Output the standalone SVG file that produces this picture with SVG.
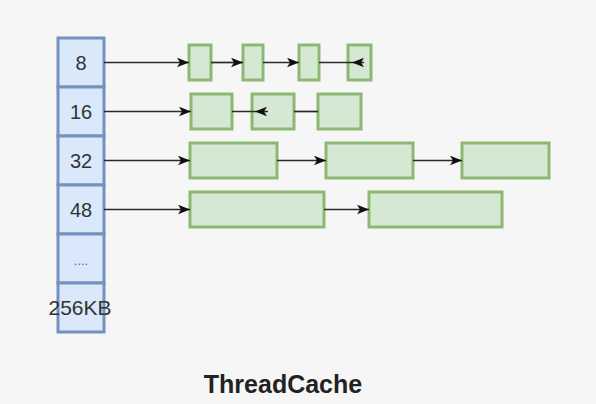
<svg xmlns="http://www.w3.org/2000/svg" width="596" height="404" viewBox="0 0 596 404">
  <defs>
    <style>
      .cell { fill: #dae8fc; stroke: #7591bd; stroke-width: 3; }
      .blk { fill: #d5e8d4; stroke: #8db873; stroke-width: 3; }
      .lbl { font-family: "Liberation Sans", Arial, sans-serif; font-size: 20px; fill: #333; text-anchor: middle; dominant-baseline: central; }
      .title { font-family: "Liberation Sans", Arial, sans-serif; font-size: 25px; font-weight: bold; fill: #222; text-anchor: middle; }
      .conn { fill: none; stroke: #2a2a2a; stroke-width: 1.7; }
      .arr { marker-end: url(#ah); }
    </style>
    <marker id="ah" viewBox="0 0 10 8" refX="10" refY="4" markerWidth="12" markerHeight="10" markerUnits="userSpaceOnUse" orient="auto">
      <path d="M0,0 L10,4 L0,8 L2.5,4 Z" fill="#111"/>
    </marker>
  </defs>
  <rect width="596" height="404" fill="#f6f6f6"/>

  <g id="threadcache">
    <g id="cell-8"><rect class="cell" x="58" y="38" width="46" height="49"/><text class="lbl" x="81" y="63">8</text></g>
    <g id="cell-16"><rect class="cell" x="58" y="87" width="46" height="49"/><text class="lbl" x="81" y="112">16</text></g>
    <g id="cell-32"><rect class="cell" x="58" y="136" width="46" height="49"/><text class="lbl" x="81" y="161">32</text></g>
    <g id="cell-48"><rect class="cell" x="58" y="185" width="46" height="49"/><text class="lbl" x="81" y="210">48</text></g>
    <g id="cell-dots"><rect class="cell" x="58" y="234" width="46" height="49"/><text class="lbl" x="81" y="260" style="font-size:13px;fill:#666">....</text></g>
    <g id="cell-256kb"><rect class="cell" x="58" y="283" width="46" height="49"/><text class="lbl" x="80" y="307" style="font-size:21px">256KB</text></g>
  </g>

  <g id="row8">
    <rect id="b8-1" class="blk" x="189" y="45" width="22" height="35"/>
    <rect id="b8-2" class="blk" x="243" y="45" width="20" height="35"/>
    <rect id="b8-3" class="blk" x="299" y="45" width="20" height="35"/>
    <rect id="b8-4" class="blk" x="348" y="45" width="23" height="35"/>
  </g>
  <g id="row16">
    <rect id="b16-1" class="blk" x="191" y="94" width="41" height="35"/>
    <rect id="b16-2" class="blk" x="252" y="94" width="42" height="35"/>
    <rect id="b16-3" class="blk" x="318" y="94" width="43" height="35"/>
  </g>
  <g id="row32">
    <rect id="b32-1" class="blk" x="190" y="143" width="87" height="35"/>
    <rect id="b32-2" class="blk" x="326" y="143" width="87" height="35"/>
    <rect id="b32-3" class="blk" x="462" y="143" width="87" height="35"/>
  </g>
  <g id="row48">
    <rect id="b48-1" class="blk" x="190" y="192" width="134" height="35"/>
    <rect id="b48-2" class="blk" x="369" y="192" width="133" height="35"/>
  </g>

  <g id="connectors">
    <path class="conn arr" d="M104,62.5 H189"/>
    <path class="conn arr" d="M211,62.5 H243"/>
    <path class="conn arr" d="M263,62.5 H299"/>
    <path class="conn arr" d="M319,62.5 H364 H352"/>
    <path class="conn arr" d="M104,111.5 H191"/>
    <path class="conn arr" d="M232,111.5 H268 H255"/>
    <path class="conn" d="M294,111.5 H318"/>
    <path class="conn arr" d="M104,160.5 H190"/>
    <path class="conn arr" d="M277,160.5 H326"/>
    <path class="conn arr" d="M413,160.5 H462"/>
    <path class="conn arr" d="M104,209.5 H190"/>
    <path class="conn arr" d="M324,209.5 H369"/>
  </g>

  <text class="title" x="283" y="393">ThreadCache</text>
</svg>
